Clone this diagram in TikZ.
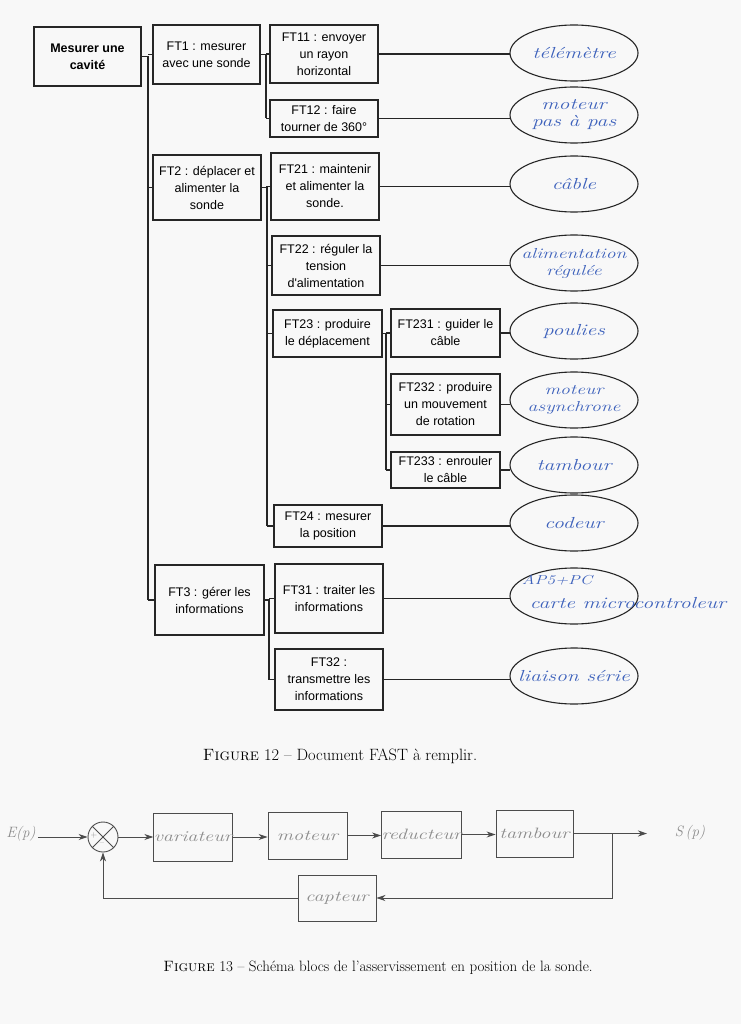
\documentclass[tikz,border=0pt]{standalone}
\usepackage{fontspec}
\usepackage{graphicx}
\newfontfamily\boxfont{Liberation Sans}
\usetikzlibrary{shapes.geometric,arrows.meta}
\definecolor{hwblue}{RGB}{62,98,188}
\definecolor{hwgray}{RGB}{140,140,140}
\definecolor{paper}{RGB}{248,248,248}
\newcommand\hw[1]{\scalebox{1.35}[1]{#1}}
\begin{document}
\begin{tikzpicture}[x=1pt,y=-1pt,
  fastbox/.style={draw=black!85, line width=1.8pt, align=center, inner sep=1pt, outer sep=0pt,
    font=\boxfont\fontsize{12.5}{17}\selectfont},
  link/.style={draw=black!85, line width=1.5pt},
  hwell/.style={ellipse, draw=black!85, line width=1.1pt, minimum width=128, minimum height=56,
    inner sep=0pt, outer sep=0pt},
  hwtext/.style={text=hwblue, align=center, inner sep=0pt, font=\fontsize{16}{17}\selectfont\itshape},
  blk/.style={draw=black!70, line width=0.9pt, minimum width=78, minimum height=48, inner sep=0pt,
    text=hwgray, font=\fontsize{15}{15}\selectfont\itshape},
  hwg/.style={text=hwgray, inner sep=0pt, font=\fontsize{15}{15}\selectfont\itshape},
  arr/.style={draw=black!70, line width=0.9pt, -{Stealth[length=9pt,width=6pt]}},
  capt/.style={inner sep=0pt, font=\fontsize{15}{16}\selectfont}]
\useasboundingbox (0,0) rectangle (741,1024);
\fill[paper] (0,0) rectangle (741,1024);

% ---------- FAST boxes ----------
\node[fastbox, minimum width=107, minimum height=59, font=\boxfont\bfseries\fontsize{12.5}{17}\selectfont] (root) at (87.5,56.5) {Mesurer une\\cavité};
\node[fastbox, minimum width=107, minimum height=59] (ft1) at (206.5,54.5) {FT1 : mesurer\\avec une sonde};
\node[fastbox, minimum width=108, minimum height=58] (ft11) at (324,54) {FT11 : envoyer\\un rayon\\horizontal};
\node[fastbox, minimum width=108, minimum height=37] (ft12) at (324,118.5) {FT12 : faire\\tourner de 360°};
\node[fastbox, minimum width=108, minimum height=65] (ft2) at (207,187.5) {FT2 : déplacer et\\alimenter la\\sonde};
\node[fastbox, minimum width=108, minimum height=67] (ft21) at (325,186.5) {FT21 : maintenir\\et alimenter la\\sonde.};
\node[fastbox, minimum width=108, minimum height=59] (ft22) at (326,265.5) {FT22 : réguler la\\tension\\d'alimentation};
\node[fastbox, minimum width=109, minimum height=47] (ft23) at (327.5,333.5) {FT23 : produire\\le déplacement};
\node[fastbox, minimum width=109, minimum height=48] (ft231) at (445.5,333) {FT231 : guider le\\câble};
\node[fastbox, minimum width=109, minimum height=61] (ft232) at (445.5,404.5) {FT232 : produire\\un mouvement\\de rotation};
\node[fastbox, minimum width=109, minimum height=36] (ft233) at (445.5,470) {FT233 : enrouler\\le câble};
\node[fastbox, minimum width=108, minimum height=42] (ft24) at (328,526) {FT24 : mesurer\\la position};
\node[fastbox, minimum width=109, minimum height=70] (ft3) at (209.5,600) {FT3 : gérer les\\informations};
\node[fastbox, minimum width=108, minimum height=69] (ft31) at (329,598.5) {FT31 : traiter les\\informations};
\node[fastbox, minimum width=108, minimum height=61] (ft32) at (329,679.5) {FT32 :\\transmettre les\\informations};

% ---------- ellipses ----------
\node[hwell] (e1) at (574,53) {};
\node[hwell] (e2) at (574,115) {};
\node[hwell] (e3) at (574,184) {};
\node[hwell] (e4) at (574,263) {};
\node[hwell] (e5) at (574,331) {};
\node[hwell] (e6) at (574,400) {};
\node[hwell] (e7) at (574,465) {};
\node[hwell] (e8) at (574,523) {};
\node[hwell] (e9) at (574,596) {};
\node[hwell] (e10) at (574,676) {};
\node[hwtext] (t1) at (e1) {\hw{télémètre}};
\node[hwtext] (t2) at (e2) {\hw{moteur}\\\hw{pas à pas}};
\node[hwtext] (t3) at (e3) {\hw{câble}};
\node[hwtext, font=\fontsize{14.5}{17}\selectfont\itshape] (t4) at (e4) {\hw{alimentation}\\\hw{régulée}};
\node[hwtext] (t5) at (e5) {\hw{poulies}};
\node[hwtext, font=\fontsize{14.5}{17}\selectfont\itshape] (t6) at (e6) {\hw{moteur}\\\hw{asynchrone}};
\node[hwtext] (t7) at (e7) {\hw{tambour}};
\node[hwtext] (t8) at (e8) {\hw{codeur}};
\node[hwtext, font=\fontsize{13}{13}\selectfont\itshape] (t9a) at (557,580) {\hw{AP5+PC}};
\node[hwtext] (t9b) at (628,603) {\hw{carte microcontroleur}};
\node[hwtext] (t10) at (e10) {\hw{liaison série}};

% ---------- FAST connectors ----------
\coordinate (b0) at (148,0);
\draw[link] (root.east) -- (root.east -| b0);
\draw[link] (b0 |- root.east) -- (b0 |- ft3.west);
\foreach \n in {ft1,ft2,ft3} \draw[link] (b0 |- \n.west) -- (\n.west);

\coordinate (b1) at (266,0);
\draw[link] (ft1.east) -- (ft1.east -| b1);
\draw[link] (b1 |- ft11.west) -- (b1 |- ft12.west);
\foreach \n in {ft11,ft12} \draw[link] (b1 |- \n.west) -- (\n.west);

\coordinate (b2) at (267,0);
\draw[link] (ft2.east) -- (ft2.east -| b2);
\draw[link] (b2 |- ft21.west) -- (b2 |- ft24.west);
\foreach \n in {ft21,ft22,ft23,ft24} \draw[link] (b2 |- \n.west) -- (\n.west);

\coordinate (b3) at (386,0);
\draw[link] (ft23.east) -- (ft23.east -| b3);
\draw[link] (b3 |- ft231.west) -- (b3 |- ft233.west);
\foreach \n in {ft231,ft232,ft233} \draw[link] (b3 |- \n.west) -- (\n.west);

\coordinate (b4) at (269,0);
\draw[link] (ft3.east) -- (ft3.east -| b4);
\draw[link] (b4 |- ft31.west) -- (b4 |- ft32.west);
\foreach \n in {ft31,ft32} \draw[link] (b4 |- \n.west) -- (\n.west);

\foreach \a/\b in {ft11/e1,ft12/e2,ft21/e3,ft22/e4,ft231/e5,ft232/e6,ft233/e7,ft24/e8,ft31/e9,ft32/e10}
  \draw[link] (\a.east) -- (\a.east -| \b.west);

% ---------- captions ----------
\node[capt, font=\fontsize{16.4}{18}\selectfont] (cap12) at (340,756) {\textsc{Figure} 12 – Document FAST à remplir.};
\node[capt] (cap13) at (378,968) {\textsc{Figure} 13 – Schéma blocs de l’asservissement en position de la sonde.};

% ---------- block diagram ----------
\node[hwg] (E) at (21,834) {E(p)};
\node[circle, draw=black!70, line width=0.9pt, minimum size=30, inner sep=0pt] (s) at (103,837) {};
\draw[draw=black!70, line width=0.9pt] (s.north west) -- (s.south east) (s.north east) -- (s.south west);
\node[hwg, font=\fontsize{8}{8}\selectfont] (splus) at (94,835) {+};
\node[hwg, font=\fontsize{8}{8}\selectfont] (sminus) at (102,844) {–};
\node[blk] (var) at (193,837) {\hw{variateur}};
\node[blk, minimum width=79, minimum height=47] (mot) at (307.5,835.5) {\hw{moteur}};
\node[blk, minimum width=77, minimum height=47] (red) at (421.5,834.5) {\hw{reducteur}};
\node[blk, minimum width=77, minimum height=47] (tam) at (534.5,833.5) {\hw{tambour}};
\node[blk, minimum height=46] (cap) at (337,898) {\hw{capteur}};
\node[hwg] (S) at (690,833) {S\,(p)};
\coordinate (out) at (647,833.5);
\coordinate (br) at (612,0);

\draw[arr] (E.east |- s.west) ++(2,0) -- (s.west);
\draw[arr] (s.east) -- (s.east -| var.west);
\draw[arr] (var.east) -- (var.east -| mot.west);
\draw[arr] (mot.east) -- (mot.east -| red.west);
\draw[arr] (red.east) -- (red.east -| tam.west);
\draw[arr] (tam.east) -- (out);
\draw[arr] (tam.east -| br) |- (cap.east);
\draw[arr] (cap.west) -| (s.south);
\end{tikzpicture}
\end{document}
